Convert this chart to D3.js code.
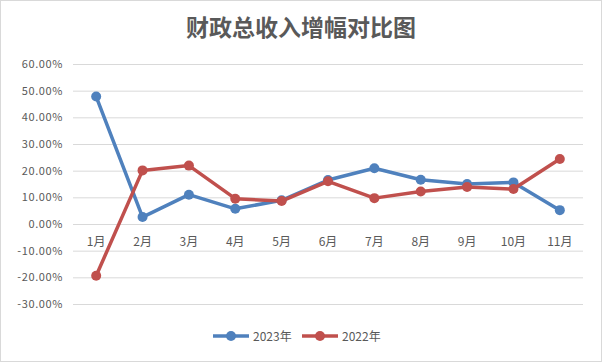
<!DOCTYPE html>
<html>
<head>
<meta charset="utf-8">
<script src="https://cdn.jsdelivr.net/npm/d3@7"></script>
<style>
  body { margin: 0; background: #fff; }
  svg text { font-family: "Noto Sans CJK SC", "Liberation Sans", sans-serif; }
</style>
</head>
<body>
<div class="chart"></div>
<script>
// data
var months = ["1月", "2月", "3月", "4月", "5月", "6月", "7月", "8月", "9月", "10月", "11月"];
var y2023 = [47.8, 2.6, 11.0, 5.7, 8.9, 16.5, 20.9, 16.6, 15.0, 15.6, 5.2];
var y2022 = [-19.4, 20.1, 21.9, 9.5, 8.6, 16.0, 9.7, 12.2, 13.9, 13.1, 24.4];
var yTicks = [-30, -20, -10, 0, 10, 20, 30, 40, 50, 60];
var seriesNames = ["2023年", "2022年"];
var colors = ["#4F81BD", "#C0504D"];

var svgWidth = 602;
var svgHeight = 362;

var margin = { top: 64, right: 19, bottom: 58, left: 73 };
var width = svgWidth - margin.left - margin.right;
var height = svgHeight - margin.top - margin.bottom;

var svg = d3.select(".chart")
  .append("svg")
  .attr("width", svgWidth)
  .attr("height", svgHeight);

// outer border
svg.append("rect")
  .attr("x", 0.5).attr("y", 0.5)
  .attr("width", svgWidth - 1).attr("height", svgHeight - 1)
  .attr("fill", "#fff")
  .attr("stroke", "#d9d9d9");

// title
svg.append("text")
  .attr("x", 301)
  .attr("y", 36)
  .attr("text-anchor", "middle")
  .attr("font-size", 23)
  .attr("font-weight", "bold")
  .attr("fill", "#595959")
  .text("财政总收入增幅对比图");

var chartGroup = svg.append("g")
  .attr("transform", `translate(${margin.left}, ${margin.top})`);

var xScale = d3.scaleBand()
  .domain(months)
  .range([0, width]);

var yScale = d3.scaleLinear()
  .domain([-30, 60])
  .range([height, 0]);

// gridlines + y labels
var yAxis = d3.axisLeft(yScale)
  .tickValues(yTicks)
  .tickSize(-width)
  .tickPadding(10)
  .tickFormat(d => d.toFixed(2) + "%");

var yAxisG = chartGroup.append("g").call(yAxis);
yAxisG.select(".domain").remove();
yAxisG.selectAll(".tick line").attr("stroke", "#d9d9d9");
yAxisG.selectAll(".tick text")
  .attr("fill", "#595959")
  .attr("font-size", 11)
  .attr("letter-spacing", 0.6)
  .attr("font-family", "Liberation Sans, sans-serif");

// x axis sits on zero line
var xAxis = d3.axisBottom(xScale).tickSize(0).tickPadding(13);
var xAxisG = chartGroup.append("g")
  .attr("transform", `translate(0, ${yScale(0)})`)
  .call(xAxis);
xAxisG.select(".domain").attr("stroke", "#d9d9d9");
xAxisG.selectAll(".tick text")
  .attr("fill", "#595959")
  .attr("font-size", 12);

var line = d3.line()
  .x((d, i) => xScale(months[i]) + xScale.bandwidth() / 2)
  .y(d => yScale(d));

[y2023, y2022].forEach(function(vals, k) {
  chartGroup.append("path")
    .datum(vals)
    .attr("d", line)
    .attr("fill", "none")
    .attr("stroke", colors[k])
    .attr("stroke-width", 3.5)
    .attr("stroke-linejoin", "round");

  chartGroup.selectAll(".pt" + k)
    .data(vals)
    .enter()
    .append("circle")
    .attr("cx", (d, i) => xScale(months[i]) + xScale.bandwidth() / 2)
    .attr("cy", d => yScale(d))
    .attr("r", 5)
    .attr("fill", colors[k]);
});

// legend
var legend = svg.append("g").attr("transform", "translate(213, 336)");
var legendX = [0, 89];
seriesNames.forEach(function(name, k) {
  var g = legend.append("g").attr("transform", `translate(${legendX[k]}, 0)`);
  g.append("line")
    .attr("x1", 0).attr("x2", 36)
    .attr("stroke", colors[k])
    .attr("stroke-width", 3.5);
  g.append("circle")
    .attr("cx", 18).attr("r", 5)
    .attr("fill", colors[k]);
  g.append("text")
    .attr("x", 40)
    .attr("y", 4.5)
    .attr("font-size", 12)
    .attr("fill", "#595959")
    .text(name);
});
</script>
</body>
</html>
